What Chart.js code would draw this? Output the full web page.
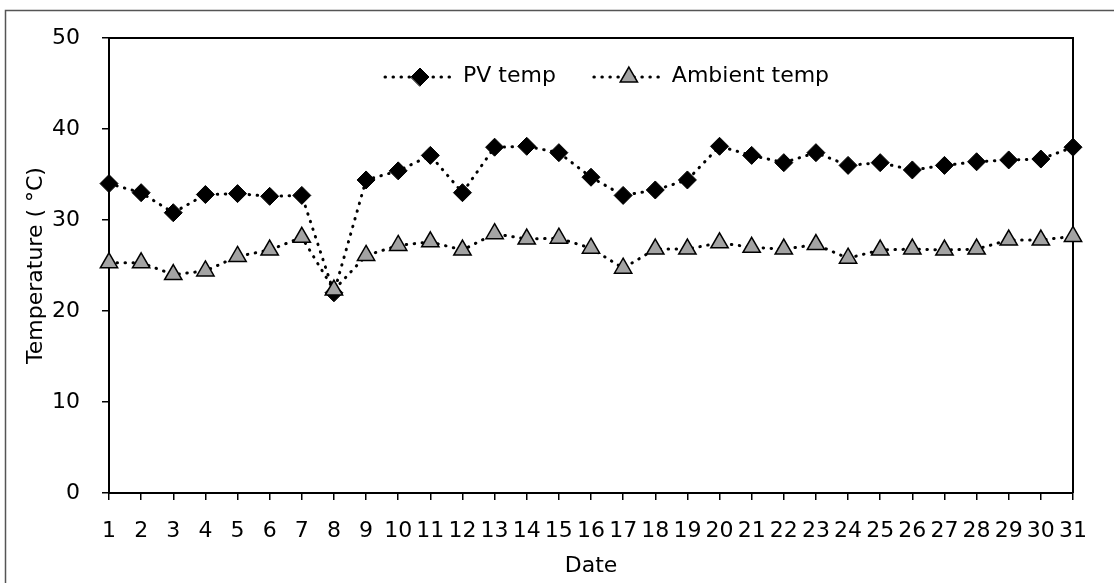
<!DOCTYPE html>
<html>
<head>
<meta charset="utf-8">
<title>PV and ambient temperature</title>
<script src="https://cdn.jsdelivr.net/npm/chart.js@4.4.0/dist/chart.umd.min.js"></script>
<style>
  html, body { margin: 0; padding: 0; background: #fff; }
</style>
</head>
<body>
<canvas id="cht" width="1114" height="583"></canvas>
<script>
// daily readings, degrees C
const days = ["1","2","3","4","5","6","7","8","9","10","11","12","13","14","15","16",
              "17","18","19","20","21","22","23","24","25","26","27","28","29","30","31"];
const pvTemp = [34.0, 33.0, 30.8, 32.8, 32.9, 32.6, 32.7, 22.0, 34.4, 35.4, 37.1, 33.0, 38.0, 38.1, 37.4, 34.7,
                32.7, 33.3, 34.4, 38.1, 37.1, 36.3, 37.4, 36.0, 36.3, 35.5, 36.0, 36.4, 36.6, 36.7, 38.0];
const ambientTemp = [25.3, 25.3, 24.0, 24.4, 26.0, 26.7, 28.1, 22.3, 26.1, 27.2, 27.6, 26.7, 28.5, 27.9, 28.0, 26.9,
                     24.7, 26.8, 26.8, 27.5, 27.0, 26.8, 27.3, 25.8, 26.7, 26.8, 26.7, 26.8, 27.8, 27.8, 28.2];
const yMin = 0, yMax = 50, yStep = 10;

const FONT = 'DejaVu Sans';
Chart.defaults.font.family = FONT;
Chart.defaults.font.size = 22;
Chart.defaults.color = '#000';

const dotted = [0.5, 7.5];

// outer border and the top/right sides of the plot box
const frame = {
  id: 'frame',
  beforeDraw(chart) {
    const ctx = chart.ctx;
    ctx.save();
    ctx.fillStyle = '#fff';
    ctx.fillRect(0, 0, chart.width, chart.height);
    ctx.strokeStyle = '#555';
    ctx.lineWidth = 1.5;
    ctx.strokeRect(5.5, 10.5, chart.width + 20, chart.height + 20);
    ctx.restore();
  },
  beforeDatasetsDraw(chart) {
    const {ctx, chartArea: a} = chart;
    ctx.save();
    ctx.strokeStyle = '#000';
    ctx.lineWidth = 2;
    ctx.beginPath();
    ctx.moveTo(a.left, a.top);
    ctx.lineTo(a.right, a.top);
    ctx.lineTo(a.right, a.bottom);
    ctx.stroke();
    ctx.restore();
  }
};

// legend drawn inside the plot, line sample + marker + label
const insideLegend = {
  id: 'insideLegend',
  afterDatasetsDraw(chart) {
    const {ctx, chartArea: a} = chart;
    const y = a.top + 39;
    let x = a.left + 276;
    chart.data.datasets.forEach(ds => {
      ctx.save();
      ctx.strokeStyle = ds.borderColor;
      ctx.lineWidth = ds.borderWidth;
      ctx.lineCap = 'round';
      ctx.setLineDash(ds.borderDash);
      ctx.beginPath();
      ctx.moveTo(x, y);
      ctx.lineTo(x + 70, y);
      ctx.stroke();
      ctx.setLineDash([]);
      ctx.fillStyle = ds.pointBackgroundColor;
      ctx.strokeStyle = ds.pointBorderColor;
      ctx.lineWidth = ds.pointBorderWidth;
      Chart.helpers.drawPoint(ctx, {
        pointStyle: ds.pointStyle, radius: ds.pointRadius,
        borderWidth: ds.pointBorderWidth, rotation: 0
      }, x + 35, y);
      ctx.fillStyle = '#000';
      ctx.font = '22px "' + FONT + '"';
      ctx.textBaseline = 'middle';
      ctx.fillText(ds.label, x + 78, y - 1);
      x += 78 + ctx.measureText(ds.label).width + 38;
      ctx.restore();
    });
  }
};

const tickGrid = { drawOnChartArea: false, drawTicks: true, tickLength: 7, color: '#000', lineWidth: 1.5 };
const axisBorder = { display: true, color: '#000', width: 2 };

new Chart(document.getElementById('cht'), {
  type: 'line',
  data: {
    labels: days,
    datasets: [
      {
        label: 'PV temp',
        data: pvTemp,
        order: 2,
        borderColor: '#000',
        borderWidth: 3,
        borderDash: dotted,
        borderCapStyle: 'round',
        tension: 0,
        fill: false,
        pointStyle: 'rectRot',
        pointRadius: 9,
        pointBackgroundColor: '#000',
        pointBorderColor: '#000',
        pointBorderWidth: 1,
        clip: false
      },
      {
        label: 'Ambient temp',
        data: ambientTemp,
        order: 1,
        borderColor: '#000',
        borderWidth: 3,
        borderDash: dotted,
        borderCapStyle: 'round',
        tension: 0,
        fill: false,
        pointStyle: 'triangle',
        pointRadius: 10,
        pointBackgroundColor: '#a3a3a3',
        pointBorderColor: '#000',
        pointBorderWidth: 1.5,
        clip: false
      }
    ]
  },
  options: {
    responsive: false,
    animation: false,
    layout: { padding: { top: 38, right: 41, bottom: 0, left: 0 } },
    plugins: {
      legend: { display: false },
      tooltip: { enabled: false }
    },
    scales: {
      x: {
        type: 'category',
        offset: false,
        grid: tickGrid,
        border: axisBorder,
        ticks: { padding: 18, autoSkip: false, maxRotation: 0, color: '#000' },
        title: { display: true, text: 'Date', color: '#000', padding: { top: 0, bottom: 4 } },
        afterFit(s) { s.height = 90; }
      },
      y: {
        min: yMin,
        max: yMax,
        grid: tickGrid,
        border: axisBorder,
        ticks: { stepSize: yStep, padding: 22, color: '#000' },
        title: { display: true, text: 'Temperature ( °C)', color: '#000', padding: { top: 23, bottom: 0 } },
        afterFit(s) { s.width = 109; }
      }
    }
  },
  plugins: [frame, insideLegend]
});
</script>
</body>
</html>
